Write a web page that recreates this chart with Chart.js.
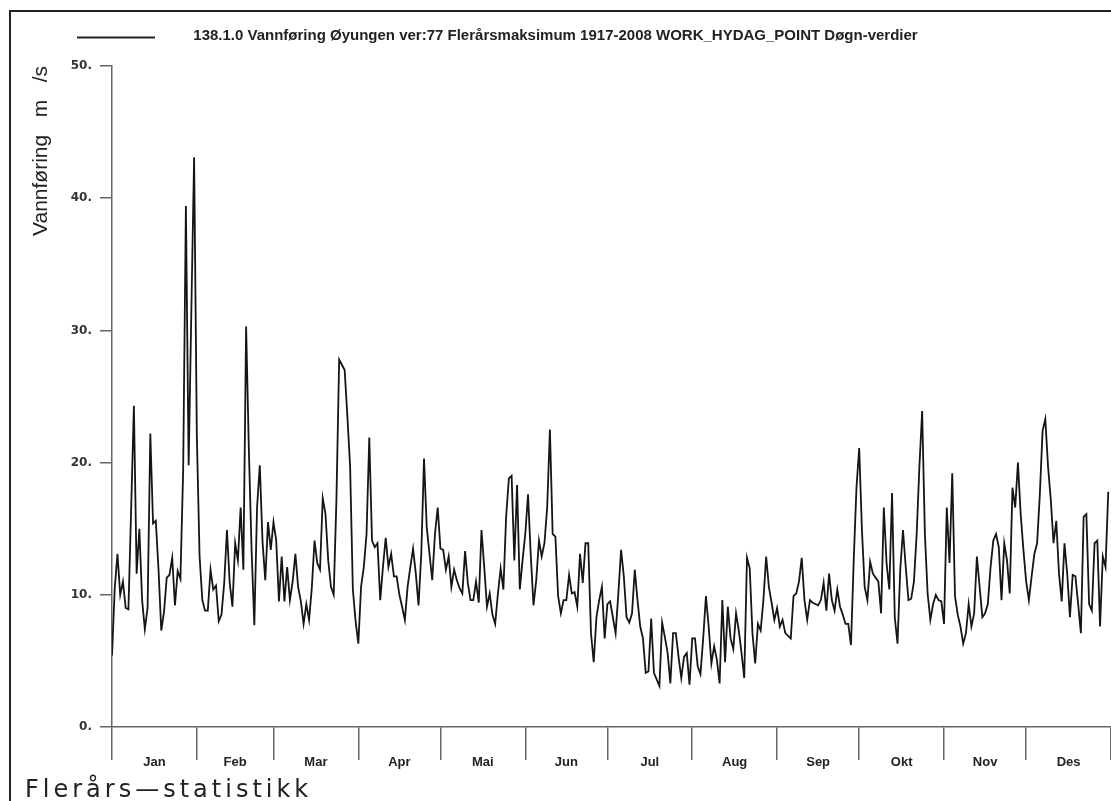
<!DOCTYPE html>
<html>
<head>
<meta charset="utf-8">
<script src="https://cdn.jsdelivr.net/npm/chart.js@4/dist/chart.umd.min.js"></script>
<style>
  html, body { margin: 0; padding: 0; background: #fff; }
  canvas { display: block; }
</style>
</head>
<body>
<canvas id="flowChart" width="1111" height="801"></canvas>
<script>
// daglige verdier, flerårsmaksimum (m3/s), en liste per måned
var jan = [5.4, 10.5, 13.1, 10.0, 11.0, 9.0, 8.9, 16.5, 24.3, 11.6, 15.0, 9.6, 7.4, 9.0, 22.2, 15.4, 15.6, 11.9, 7.3, 8.7, 11.3, 11.5, 12.8, 9.2, 11.8, 11.2, 19.4, 39.4, 19.8, 31.6, 43.1];
var feb = [22.0, 12.9, 9.6, 8.8, 8.8, 11.9, 10.4, 10.7, 8.0, 8.5, 10.9, 14.9, 10.9, 9.1, 13.9, 12.6, 16.6, 11.9, 30.3, 21.0, 13.4, 7.7, 16.6, 19.8, 14.0, 11.1, 15.5, 13.4];
var mar = [15.5, 14.1, 9.5, 12.9, 9.5, 12.1, 9.6, 11.0, 13.1, 10.6, 9.5, 7.8, 9.3, 8.1, 10.5, 14.1, 12.4, 11.9, 17.3, 16.1, 12.6, 10.6, 10.0, 17.2, 27.8, 27.4, 27.0, 23.5, 19.7, 10.4, 8.0];
var apr = [6.3, 10.6, 12.1, 14.6, 21.9, 14.1, 13.6, 13.9, 9.6, 12.1, 14.3, 12.1, 13.1, 11.4, 11.4, 10.0, 9.1, 8.1, 10.6, 12.1, 13.5, 11.6, 9.2, 13.1, 20.3, 15.1, 13.1, 11.1, 14.6, 16.6];
var mai = [13.5, 13.4, 11.9, 12.9, 10.6, 11.9, 11.1, 10.5, 10.1, 13.3, 10.9, 9.6, 9.6, 11.0, 9.4, 14.9, 12.1, 9.1, 10.1, 8.5, 7.8, 10.1, 12.0, 10.4, 15.9, 18.8, 19.0, 12.6, 18.3, 10.4, 12.6];
var jun = [14.6, 17.6, 13.0, 9.2, 11.1, 14.1, 12.9, 13.9, 16.6, 22.5, 14.6, 14.4, 9.9, 8.6, 9.6, 9.6, 11.5, 10.1, 10.2, 9.1, 13.1, 10.9, 13.9, 13.9, 7.1, 4.9, 8.3, 9.6, 10.6, 6.7];
var jul = [9.3, 9.5, 8.3, 7.1, 10.1, 13.4, 11.4, 8.3, 7.9, 8.6, 11.9, 9.6, 7.6, 6.7, 4.1, 4.2, 8.2, 4.1, 3.6, 3.1, 7.9, 6.8, 5.6, 3.3, 7.1, 7.1, 5.3, 3.7, 5.3, 5.6, 3.2];
var aug = [6.7, 6.7, 4.6, 4.0, 6.7, 9.9, 7.6, 4.8, 6.1, 5.1, 3.3, 9.6, 4.9, 9.1, 6.7, 5.9, 8.6, 7.3, 5.6, 3.7, 12.8, 12.0, 7.1, 4.8, 7.8, 7.3, 9.6, 12.9, 10.6, 9.4, 8.1];
var sep = [9.0, 7.6, 8.1, 7.1, 6.9, 6.7, 9.9, 10.1, 11.0, 12.8, 9.6, 8.1, 9.6, 9.4, 9.3, 9.2, 9.6, 10.9, 8.8, 11.6, 9.6, 8.8, 10.4, 9.1, 8.5, 7.8, 7.8, 6.2, 12.6, 18.1];
var okt = [21.1, 14.9, 10.6, 9.6, 12.5, 11.6, 11.3, 11.0, 8.6, 16.6, 12.4, 10.4, 17.7, 8.3, 6.3, 11.9, 14.9, 12.1, 9.6, 9.7, 11.0, 14.6, 19.7, 23.9, 14.6, 10.1, 8.1, 9.3, 10.0, 9.6, 9.5];
var nov = [7.8, 16.6, 12.4, 19.2, 9.9, 8.5, 7.6, 6.3, 7.1, 9.3, 7.6, 8.6, 12.9, 10.6, 8.3, 8.6, 9.3, 12.1, 14.1, 14.6, 13.6, 9.6, 13.9, 12.6, 10.1, 18.1, 16.6, 20.0, 16.1, 13.4];
var des = [11.0, 9.6, 11.4, 13.1, 13.9, 17.6, 22.4, 23.3, 19.7, 17.2, 13.9, 15.6, 11.6, 9.5, 13.9, 11.6, 8.3, 11.5, 11.4, 9.3, 7.1, 15.9, 16.1, 9.3, 8.8, 13.9, 14.1, 7.6, 12.9, 12.1, 17.8];

var monthNames = ['Jan', 'Feb', 'Mar', 'Apr', 'Mai', 'Jun', 'Jul', 'Aug', 'Sep', 'Okt', 'Nov', 'Des'];
var yTicks = [0, 10, 20, 30, 40, 50];
var chartTitle = '138.1.0 Vannføring Øyungen ver:77 Flerårsmaksimum 1917-2008 WORK_HYDAG_POINT Døgn-verdier';
var yTitle = 'Vannføring   m   /s';
var footerText = 'Flerårs—statistikk';

var months = [jan, feb, mar, apr, mai, jun, jul, aug, sep, okt, nov, des];

// dag-nummer for månedsgrenser og midten av hver måned
var bounds = [0];
months.forEach(function(m) { bounds.push(bounds[bounds.length - 1] + m.length); });
var mids = monthNames.map(function(_, i) { return (bounds[i] + bounds[i + 1]) / 2; });

var points = [];
var day = 0;
months.forEach(function(m) {
    m.forEach(function(v) {
        points.push({ x: day, y: v });
        day++;
    });
});

// ramme, forklaring og bunntekst
var decorPlugin = {
    id: 'decor',
    afterDraw: function(chart) {
        var ctx = chart.ctx;
        ctx.save();
        ctx.strokeStyle = '#222';
        ctx.lineWidth = 2;
        ctx.strokeRect(10, 11, 1200, 900);

        ctx.beginPath();
        ctx.moveTo(77, 37.5);
        ctx.lineTo(155, 37.5);
        ctx.lineWidth = 2;
        ctx.stroke();

        ctx.fillStyle = '#222';
        ctx.font = '24px "DejaVu Sans"';
        ctx.letterSpacing = '4px';
        ctx.textBaseline = 'alphabetic';
        ctx.fillText(footerText, 25, 797);
        ctx.restore();
    }
};

var ctx = document.getElementById('flowChart').getContext('2d');
var flowChart = new Chart(ctx, {
    type: 'line',
    data: {
        datasets: [{
            label: chartTitle,
            data: points,
            borderColor: '#151515',
            borderWidth: 1.8,
            pointRadius: 0,
            tension: 0,
            fill: false
        }]
    },
    options: {
        responsive: false,
        animation: false,
        layout: { padding: 0 },
        plugins: {
            legend: { display: false },
            tooltip: { enabled: false },
            title: {
                display: true,
                text: chartTitle,
                color: '#222',
                font: { family: '"Liberation Sans", Arial, sans-serif', size: 15, weight: 'bold' },
                padding: { top: 27, bottom: 21 }
            }
        },
        scales: {
            x: {
                type: 'linear',
                min: 0,
                max: 365,
                afterBuildTicks: function(scale) {
                    scale.ticks = bounds.concat(mids).sort(function(a, b) { return a - b; })
                        .map(function(v) { return { value: v }; });
                },
                afterFit: function(scale) { scale.height = 74; },
                ticks: {
                    autoSkip: false,
                    maxRotation: 0,
                    padding: -5,
                    color: '#222',
                    font: { family: '"Liberation Sans", Arial, sans-serif', size: 13, weight: 'bold' },
                    callback: function(value) {
                        var i = mids.indexOf(value);
                        return i >= 0 ? monthNames[i] : '';
                    }
                },
                grid: {
                    drawOnChartArea: false,
                    tickLength: 33,
                    lineWidth: 1.5,
                    tickColor: function(c) {
                        return c.tick && bounds.indexOf(c.tick.value) >= 0 ? '#666' : 'rgba(0,0,0,0)';
                    }
                },
                border: { color: '#666', width: 1.5 }
            },
            y: {
                min: 0,
                max: 50,
                afterBuildTicks: function(scale) {
                    scale.ticks = yTicks.map(function(v) { return { value: v }; });
                },
                afterFit: function(scale) { scale.width = 112; },
                ticks: {
                    padding: 8,
                    color: '#333',
                    font: { family: '"DejaVu Sans", sans-serif', size: 12, weight: 'bold' },
                    callback: function(value) { return value + '.'; }
                },
                grid: {
                    drawOnChartArea: false,
                    tickLength: 12,
                    lineWidth: 1.5,
                    color: '#666'
                },
                border: { color: '#666', width: 1.5 },
                title: {
                    display: true,
                    text: yTitle,
                    align: 'end',
                    color: '#222',
                    font: { family: '"Liberation Sans", Arial, sans-serif', size: 21 },
                    padding: { top: 29, bottom: 0 }
                }
            }
        }
    },
    plugins: [decorPlugin]
});
</script>
</body>
</html>
